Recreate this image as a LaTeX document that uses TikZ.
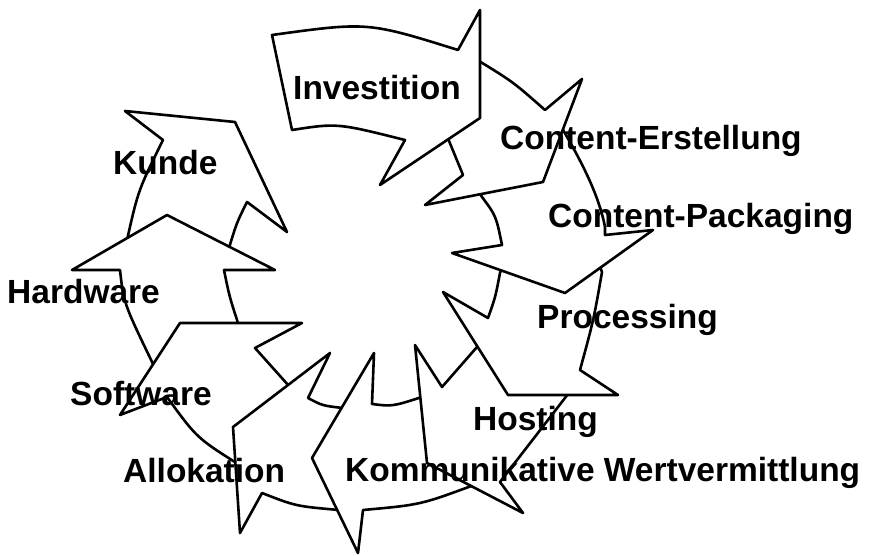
\documentclass[tikz,border=0pt]{standalone}
\usepackage{fontspec}
\setmainfont{Liberation Sans}
\newfontfamily\lblfont{Liberation Sans}[BoldFont={Liberation Sans Bold}]
\usepackage{tikz}

\tikzset{
  piece/.style={draw=black, fill=white, line width=2.6pt, line join=round},
  lbl/.style={anchor=base west, inner sep=0pt, font=\lblfont\bfseries\fontsize{33.5}{38}\selectfont}
}

\begin{document}
\begin{tikzpicture}[x=1pt,y=-1pt]
\useasboundingbox (0,0) rectangle (872,556);

% Kunde
\draw[piece] (125,111) -- (235,122) -- (287,232) -- (247,202)
  .. controls (236.7,222.7) .. (229,248) -- (200,252) -- (140,253) -- (127,240)
  .. controls (138.3,190) .. (163,140) -- cycle;

% Hardware
\draw[piece] (167,215) -- (275,270) -- (224,270)
  .. controls (229.5,297) .. (239,326) -- (230,335) -- (175,340) -- (154,366)
  .. controls (123.7,303.3) .. (120,270) -- (72,270) -- cycle;

% Software
\draw[piece] (302,323) -- (255,348) -- (289,386) -- (275,430) -- (238,464)
  .. controls (196.7,437.8) .. (167,397) -- (120,415) -- (180,323) -- cycle;

% Allokation
\draw[piece] (330,353) -- (308,398)
  .. controls (322.5,405.7) .. (343,408) -- (350,425) -- (345,495) -- (339,510)
  .. controls (295.8,506.2) .. (262,493) -- (240,533) -- (233,427) -- cycle;

% Kommunikative Wertvermittlung
\draw[piece] (374,353) -- (372,404)
  .. controls (392.3,406.5) .. (422,397) -- (440,420) -- (458,474) -- (474,485)
  .. controls (420.5,504.8) .. (363,510) -- (358,553) -- (312,458) -- cycle;

% Hosting
\draw[piece] (575,385) -- (500,482) -- (523,513) -- (427,463) -- (415,345)
  -- (442,387) -- (477,347) -- (485,340) -- cycle;

% Processing
\draw[piece] (598,262) -- (602,272)
  .. controls (593.7,319.7) .. (580,370) -- (618,395) -- (508,395) -- (443,292)
  -- (488,318) .. controls (495.3,297.5) .. (500,273) -- (503,265) -- cycle;

% Content-Packaging
\draw[piece] (556,118) .. controls (575,150) and (598,190) .. (605,227)
  -- (605,235) -- (653,230) -- (565,293) -- (452,253) -- (502,245)
  .. controls (496,215.7) .. (482,197) -- (478,190) -- cycle;

% Content-Erstellung
\draw[piece] (465,75) -- (479,61) .. controls (513.2,82) .. (545,110)
  -- (582,79) -- (543,182) -- (425,205) -- (463,175) -- (447,136) -- cycle;

% Investition
\draw[piece] (272,35) .. controls (367.7,21.8) .. (458,50) -- (480,10)
  -- (480,118) -- (380,185) -- (405,140)
  .. controls (337.2,123) .. (292,130) -- cycle;

\node[lbl] (investition) at (293,99.5) {Investition};
\node[lbl] (erstellung) at (500,150) {Content-Erstellung};
\node[lbl] (packaging) at (548,227) {Content-Packaging};
\node[lbl] (processing) at (537,328) {Processing};
\node[lbl] (hosting) at (473,430) {Hosting};
\node[lbl] (kommunikation) at (345,481) {Kommunikative Wertvermittlung};
\node[lbl] (allokation) at (123,482) {Allokation};
\node[lbl] (software) at (70,405) {Software};
\node[lbl] (hardware) at (7,303) {Hardware};
\node[lbl] (kunde) at (113,175) {Kunde};
\end{tikzpicture}
\end{document}
